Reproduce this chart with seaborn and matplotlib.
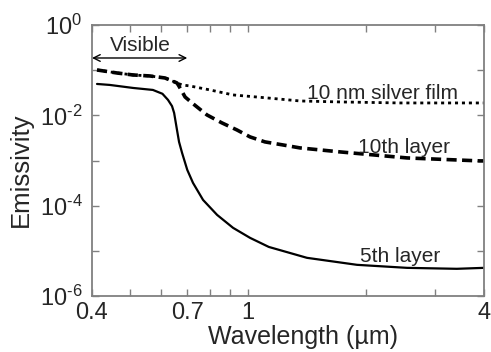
import numpy as np
import pandas as pd
import matplotlib
matplotlib.use("Agg")
import matplotlib.pyplot as plt
import seaborn as sns
from matplotlib.ticker import FixedLocator, FixedFormatter, NullLocator

# ---- data ----
wl_5th = [0.412, 0.444, 0.509, 0.572, 0.605, 0.625, 0.640, 0.648, 0.659, 0.667, 0.679,
          0.700, 0.724, 0.768, 0.834, 0.916, 1.012, 1.13, 1.414, 1.897, 2.545, 3.41, 4.0]
em_5th = [0.0495, 0.0471, 0.0404, 0.0365, 0.030, 0.022, 0.016, 0.0113, 0.00475, 0.00258, 0.00147,
          6.2e-4, 3.19e-4, 1.34e-4, 6.25e-5, 3.23e-5, 1.94e-5, 1.22e-5, 7.0e-6, 4.9e-6, 4.2e-6, 4.0e-6, 4.2e-6]

wl_10th = [0.412, 0.463, 0.509, 0.562, 0.614, 0.632, 0.659, 0.666, 0.682, 0.691, 0.720, 0.786,
           0.858, 0.937, 1.012, 1.105, 1.228, 1.357, 1.717, 2.545, 3.9, 4.0]
em_10th = [0.101, 0.0867, 0.0783, 0.0744, 0.0672, 0.0607, 0.0521, 0.045, 0.0313, 0.0255, 0.0188, 0.0102,
           0.0068, 0.00475, 0.00333, 0.00258, 0.00221, 0.0019, 0.00155, 0.00114, 0.00098, 0.00098]

wl_film = [0.412, 0.463, 0.509, 0.562, 0.614, 0.632, 0.659, 0.679, 0.711, 0.754, 0.80, 0.916,
           1.118, 1.357, 1.717, 2.44, 4.0]
em_film = [0.101, 0.0867, 0.0783, 0.0744, 0.0672, 0.0607, 0.0521, 0.0471, 0.0447, 0.0404, 0.0365, 0.0283,
           0.0243, 0.0208, 0.0198, 0.0188, 0.0188]

x_ticks = [0.4, 0.5, 0.6, 0.7, 0.8, 0.9, 1, 2, 3, 4]
x_ticklabels = ["0.4", "", "", "0.7", "", "", "1", "", "", "4"]
y_ticks = [1e0, 1e-1, 1e-2, 1e-3, 1e-4, 1e-5, 1e-6]
y_ticklabels = ["10$^{0}$", "", "10$^{\u20102}$", "", "10$^{\u20104}$", "", "10$^{\u20106}$"]

sns.set_theme(style="ticks")
plt.rcParams["font.family"] = ["Liberation Sans", "DejaVu Sans"]
plt.rcParams["mathtext.fontset"] = "custom"
plt.rcParams["mathtext.rm"] = "Liberation Sans"
plt.rcParams["mathtext.default"] = "regular"

fig = plt.figure(figsize=(4.91, 3.52), dpi=100)
ax = fig.add_axes([92/491, 1-296/352, (484-92)/491, (296-25)/352])

sns.lineplot(x=wl_5th, y=em_5th, ax=ax, color="black", lw=1.6, sort=False)
sns.lineplot(x=wl_10th, y=em_10th, ax=ax, color="black", lw=2.6, sort=False)
sns.lineplot(x=wl_film, y=em_film, ax=ax, color="black", lw=2.0, sort=False)
lines = ax.get_lines()
lines[1].set_linestyle((0, (2.8, 1.5)))
lines[2].set_linestyle((0, (1.1, 1.4)))

ax.set_xscale("log")
ax.set_yscale("log")
ax.set_xlim(0.4, 4)
ax.set_ylim(1e-6, 1)

ax.xaxis.set_major_locator(FixedLocator(x_ticks))
ax.xaxis.set_major_formatter(FixedFormatter(x_ticklabels))
ax.xaxis.set_minor_locator(NullLocator())
ax.yaxis.set_major_locator(FixedLocator(y_ticks))
ax.yaxis.set_major_formatter(FixedFormatter(y_ticklabels))
ax.yaxis.set_minor_locator(NullLocator())

ax.tick_params(direction="in", length=5, width=1, color="#808080",
               top=True, right=True, labelsize=17, pad=4)
ax.tick_params(axis="y", pad=7)
for s in ax.spines.values():
    s.set_color("#808080")
    s.set_linewidth(1.3)

ax.set_xlabel("Wavelength (\u00b5m)", fontsize=18)
ax.set_ylabel("Emissivity", fontsize=18.5)
ax.xaxis.set_label_coords(0.538, -0.108)
ax.yaxis.set_label_coords(-0.15, 0.465)

# annotations
ax.annotate("", xy=(0.4, 0.186), xytext=(0.70, 0.186),
            arrowprops=dict(arrowstyle="<->", color="black", lw=1.0,
                            shrinkA=0, shrinkB=0, mutation_scale=12))
ax.text(0.53, 0.36, "Visible", fontsize=15, ha="center", va="center")
ax.text(1.414, 0.0225, "10 nm silver film", fontsize=15, ha="left", va="baseline")
ax.text(1.908, 0.00147, "10th layer", fontsize=15, ha="left", va="baseline")
ax.text(1.93, 5.7e-6, "5th layer", fontsize=15, ha="left", va="baseline")

fig.savefig("out.png", dpi=100)
